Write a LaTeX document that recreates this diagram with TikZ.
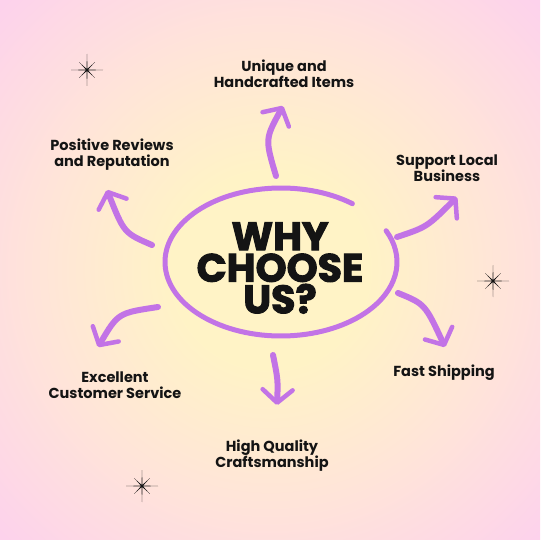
\documentclass[tikz,border=0pt]{standalone}
\usepackage{fontspec}
\setmainfont{Poppins}
\newfontfamily\headfont{Poppins}[BoldFeatures={FakeBold=2.6}]
\usetikzlibrary{arrows.meta,positioning}

\definecolor{bgin}{HTML}{FFF3C6}
\definecolor{bgmid}{HTML}{FFE5D8}
\definecolor{bgout}{HTML}{FDD2EC}
\definecolor{brush}{HTML}{C273E6}
\definecolor{ink}{HTML}{141414}

\pgfdeclareradialshading{bgglow}{\pgfpoint{0bp}{0bp}}{color(0bp)=(bgin); color(9bp)=(bgin); color(21bp)=(bgmid); color(35bp)=(bgout); color(45bp)=(bgout)}

\begin{document}
\begin{tikzpicture}[x=1pt,y=-1pt]
    \tikzstyle{lbl} = [font=\bfseries\fontsize{14.5}{16}\selectfont, text=ink, align=center, inner sep=0pt]
    \tikzstyle{brushline} = [draw=brush, line width=5pt, line cap=round]
    \tikzstyle{arr} = [brushline, line width=6pt, -{Straight Barb[length=13pt,width=30pt,line width=4.5pt,round]}]

    % Background .........................
    \useasboundingbox (0,0) rectangle (540,540);
    \shade[shading=bgglow] (0,0) rectangle (540,540);

    % Centre .........................
    \coordinate (ring) at (281,262);
    \node[font=\headfont\bfseries\fontsize{39.5}{31.5}\selectfont, text=ink, align=center, inner sep=0pt] (why) at (280,268) {WHY\\CHOOSE\\US?};
    \draw[brushline] (ring) ++(-52:116 and 74) arc[start angle=-52, end angle=-385, x radius=116, y radius=74];

    % Labels .........................
    \node[lbl] (unique)  at (284,74)  {Unique and\\Handcrafted Items};
    \node[lbl] (local)   at (447,168) {Support Local\\Business};
    \node[lbl] (ship)    at (444,373) {Fast Shipping};
    \node[lbl] (craft)   at (272,456) {High Quality\\Craftsmanship};
    \node[lbl] (service) at (115,385) {Excellent\\Customer Service};
    \node[lbl] (reviews) at (112,155) {Positive Reviews\\and Reputation};

    % Arrows .........................
    \coordinate (u0) at (276,176);  \coordinate (u1) at (283,106);
    \coordinate (r0) at (397,237);  \coordinate (r1) at (457,197);
    \coordinate (f0) at (398,293);  \coordinate (f1) at (445,347);
    \coordinate (d0) at (273,355);  \coordinate (d1) at (277,405);
    \coordinate (c0) at (158,307);  \coordinate (c1) at (98,347);
    \coordinate (p0) at (152,245);  \coordinate (p1) at (107,190);

    \draw[arr] (u0) .. controls (265,139) .. (u1);
    \draw[arr] (r0) .. controls (427,227) .. (r1);
    \draw[arr] (f0) .. controls (425,304) .. (f1);
    \draw[arr] (d0) .. controls (278,380) .. (d1);
    \draw[arr] (c0) .. controls (118,313) .. (c1);
    \draw[arr] (p0) .. controls (124,233) .. (p1);

    % Sparkles .........................
    \coordinate (s1) at (87,70);
    \coordinate (s2) at (493,281);
    \coordinate (s3) at (142,486);
    \foreach \s in {s1,s2,s3}
        \fill[ink] (\s) +(0:16) \foreach \a in {0,90,180,270}{ -- +(\a+22.5:1.3) -- +(\a+45:11) -- +(\a+67.5:1.3) -- +(\a+90:16) } -- cycle;

\end{tikzpicture}
\end{document}
